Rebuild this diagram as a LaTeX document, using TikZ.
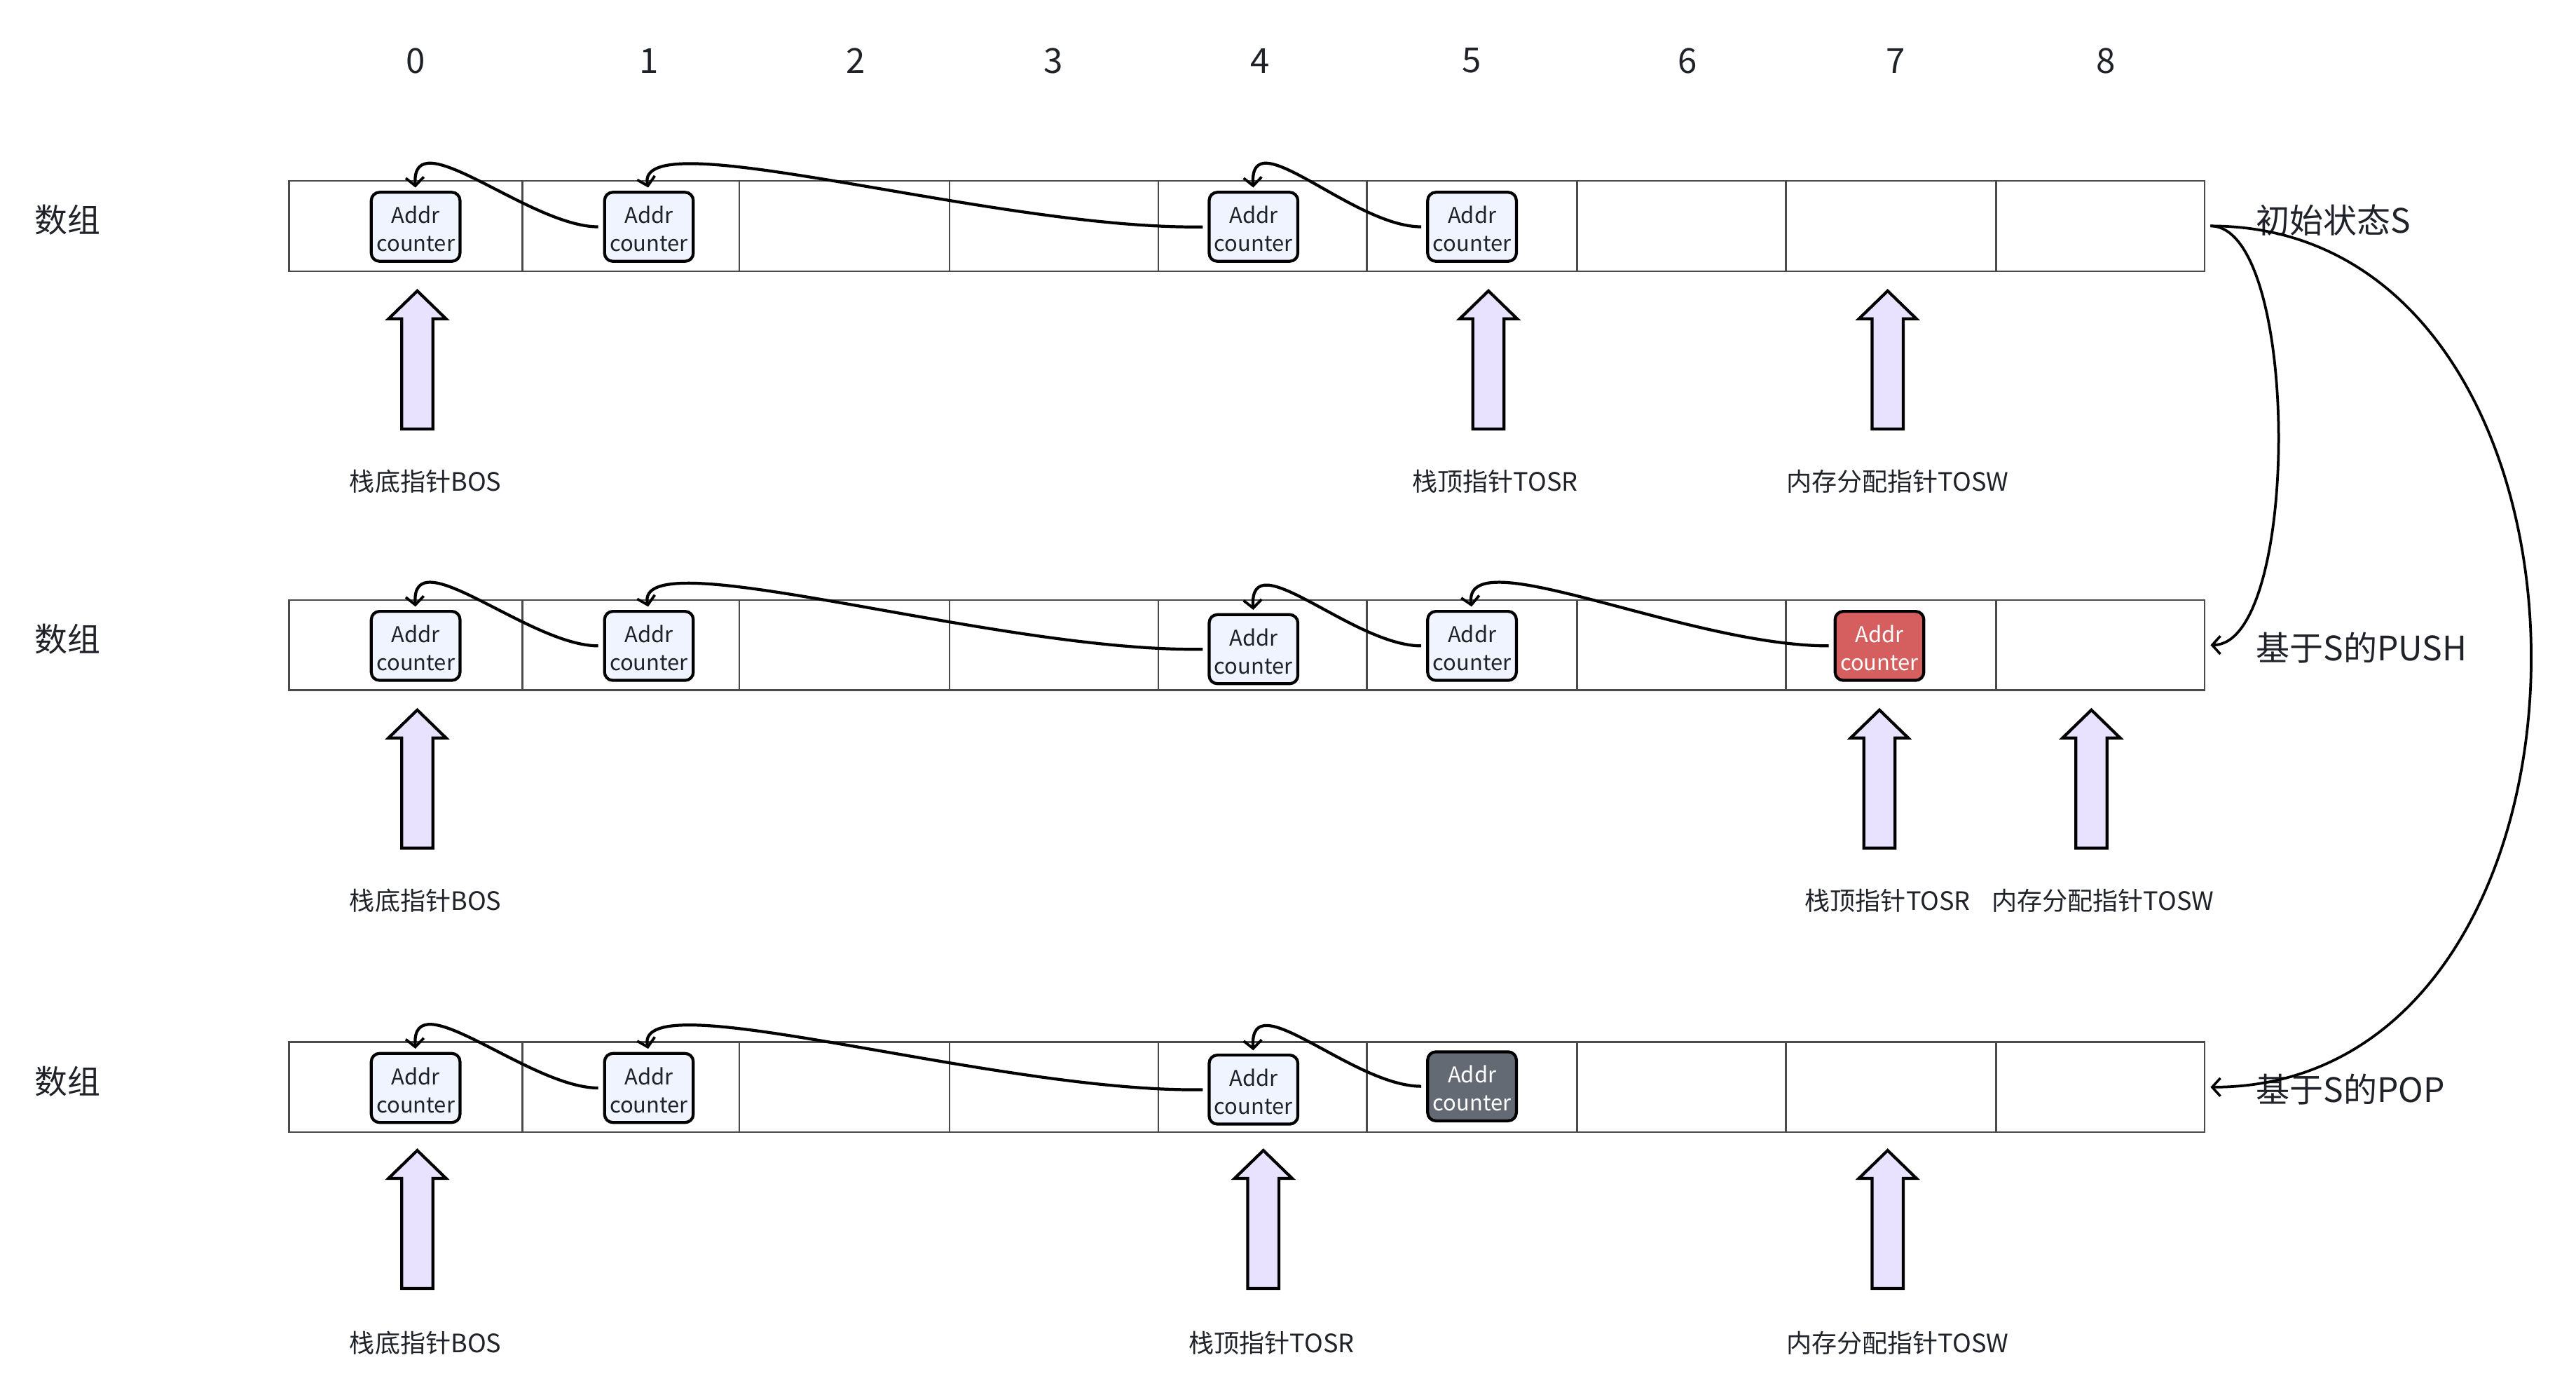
\documentclass[tikz,border=0pt]{standalone}
\usepackage{fontspec}
\setmainfont{Noto Sans CJK SC}
\usetikzlibrary{arrows.meta}
\definecolor{txt}{HTML}{1F2329}
\definecolor{gridc}{HTML}{4A4A4A}
\definecolor{boxfill}{HTML}{F0F4FF}
\definecolor{pushred}{HTML}{D55E5E}
\definecolor{popgray}{HTML}{646A73}
\definecolor{arrowfill}{HTML}{E9E2FE}
\newcommand{\addrcounter}{\raisebox{-3pt}[\height][\depth]{\begin{tabular}{@{}c@{}}Addr\\[-0.5pt]counter\end{tabular}}}
\tikzset{
  cellrow/.style={draw=gridc, line width=1pt, minimum width=1166pt, minimum height=55pt, inner sep=0pt},
  gridline/.style={draw=gridc, line width=1pt},
  item/.style={draw=black, line width=1.8pt, rounded corners=5pt, fill=boxfill, minimum width=54pt, minimum height=42pt, inner sep=0pt, text=txt, font=\fontsize{13.2}{17.5}\selectfont},
  pushed/.style={item, fill=pushred, text=white},
  popped/.style={item, fill=popgray, text=white},
  link/.style={draw=black, line width=1.8pt, -{Straight Barb[length=5pt,width=11pt,line width=1.6pt]}, shorten <=3pt, shorten >=2pt},
  bigcurve/.style={draw=black, line width=1.6pt, -{Straight Barb[length=5pt,width=11pt,line width=1.5pt]}},
  lbl/.style={text=txt, inner sep=0pt, font=\fontsize{15.4}{18}\selectfont},
  rowname/.style={text=txt, inner sep=0pt, font=\fontsize{20}{24}\selectfont},
  statename/.style={text=txt, inner sep=0pt, anchor=west, font=\fontsize{20.5}{24}\selectfont},
  idx/.style={text=txt, inner sep=0pt, font=\fontsize{21}{25}\selectfont},
  ptr/.pic={\draw[line width=1.8pt, fill=arrowfill, line join=miter] (0,0) -- (17.5,17) -- (9.5,17) -- (9.5,84) -- (-9.5,84) -- (-9.5,17) -- (-17.5,17) -- cycle;}
}
\begin{document}
\begin{tikzpicture}[x=1pt,y=-1pt]
\useasboundingbox (0,0) rectangle (1568,848.8);

% column indices
\node[idx] (i0) at (253,37) {0};
\node[idx] (i1) at (395,37) {1};
\node[idx] (i2) at (521,37) {2};
\node[idx] (i3) at (641,37) {3};
\node[idx] (i4) at (767,37) {4};
\node[idx] (i5) at (896,37) {5};
\node[idx] (i6) at (1027,37) {6};
\node[idx] (i7) at (1154,37) {7};
\node[idx] (i8) at (1282,37) {8};

% row names
\node[rowname] (n1) at (41,134) {数组};
\node[rowname] (n2) at (41,389) {数组};
\node[rowname] (n3) at (41,658) {数组};

% arrays
\node[cellrow] (A1) at (759,137.5) {};
\node[cellrow] (A2) at (759,392.5) {};
\node[cellrow] (A3) at (759,661.5) {};
\foreach \x in {318,450,578,705,832,960,1087,1215}{
  \draw[gridline] (\x,110) -- (\x,165);
  \draw[gridline] (\x,365) -- (\x,420);
  \draw[gridline] (\x,634) -- (\x,689);
}

% row 1 items
\node[item] (a0) at (253,138) {\addrcounter};
\node[item] (a1) at (395,138) {\addrcounter};
\node[item] (a4) at (763,138) {\addrcounter};
\node[item] (a5) at (896,138) {\addrcounter};
\draw[link] (a1.west) .. controls +(-45,0) and +(-3,-44) .. (a0.north);
\draw[link] (a4.west) .. controls +(-130,2) and +(-10,-44) .. (a1.north);
\draw[link] (a5.west) .. controls +(-45,0) and +(-3,-44) .. (a4.north);

% row 2 items
\node[item] (b0) at (253,393) {\addrcounter};
\node[item] (b1) at (395,393) {\addrcounter};
\node[item] (b4) at (763,395) {\addrcounter};
\node[item] (b5) at (896,393) {\addrcounter};
\node[pushed] (b7) at (1144,393) {\addrcounter};
\draw[link] (b1.west) .. controls +(-45,0) and +(-3,-44) .. (b0.north);
\draw[link] (b4.west) .. controls +(-130,2) and +(-10,-44) .. (b1.north);
\draw[link] (b5.west) .. controls +(-45,0) and +(-3,-44) .. (b4.north);
\draw[link] (b7.west) .. controls +(-90,0) and +(-6,-44) .. (b5.north);

% row 3 items
\node[item] (c0) at (253,662) {\addrcounter};
\node[item] (c1) at (395,662) {\addrcounter};
\node[item] (c4) at (763,663) {\addrcounter};
\node[popped] (c5) at (896,661) {\addrcounter};
\draw[link] (c1.west) .. controls +(-45,0) and +(-3,-44) .. (c0.north);
\draw[link] (c4.west) .. controls +(-130,2) and +(-10,-44) .. (c1.north);
\draw[link] (c5.west) .. controls +(-45,0) and +(-3,-44) .. (c4.north);

% pointer arrows
\pic at (254,177) {ptr};
\pic at (906,177) {ptr};
\pic at (1149,177) {ptr};
\pic at (254,432) {ptr};
\pic at (1144,432) {ptr};
\pic at (1273,432) {ptr};
\pic at (254,700) {ptr};
\pic at (769,700) {ptr};
\pic at (1149,700) {ptr};

% pointer labels
\node[lbl] (p11) at (259,293) {栈底指针BOS};
\node[lbl] (p12) at (910,293) {栈顶指针TOSR};
\node[lbl] (p13) at (1155,293) {内存分配指针TOSW};
\node[lbl] (p21) at (259,548) {栈底指针BOS};
\node[lbl] (p22) at (1149,548) {栈顶指针TOSR};
\node[lbl] (p23) at (1280,548) {内存分配指针TOSW};
\node[lbl] (p31) at (259,817) {栈底指针BOS};
\node[lbl] (p32) at (774,817) {栈顶指针TOSR};
\node[lbl] (p33) at (1155,817) {内存分配指针TOSW};

% state names
\node[statename] (s1) at (1373,134) {初始状态S};
\node[statename] (s2) at (1373,394) {基于S的PUSH};
\node[statename] (s3) at (1373,663) {基于S的POP};

% transitions
\coordinate (e1) at ([xshift=3pt]A1.east);
\coordinate (e2) at ([xshift=3pt]A2.east);
\coordinate (e3) at ([xshift=3pt]A3.east);
\draw[bigcurve] (e1) .. controls +(55,0) and +(55,0) .. (e2);
\draw[bigcurve] (e1) .. controls +(260,0) and +(260,0) .. (e3);
\end{tikzpicture}
\end{document}
